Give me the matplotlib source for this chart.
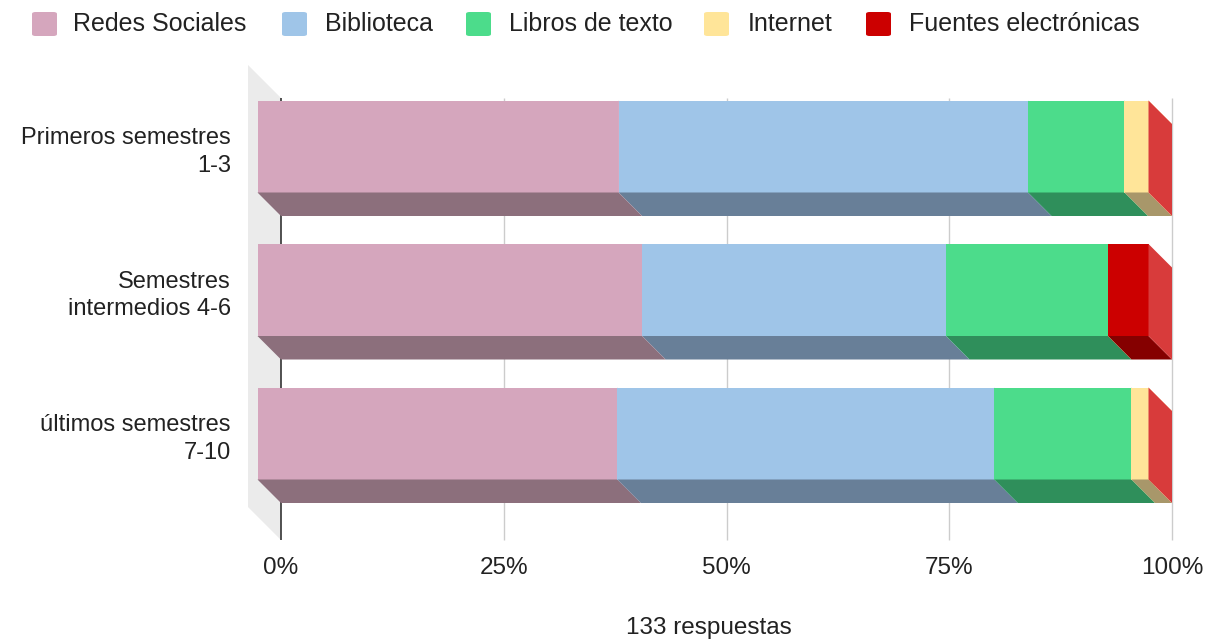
import matplotlib
matplotlib.use("Agg")
import matplotlib.pyplot as plt
from matplotlib.patches import Polygon, FancyBboxPatch
import numpy as np

plt.rcParams['font.family'] = ['Liberation Sans', 'DejaVu Sans']

# Survey counts per group (133 responses in total)
categories = ['Primeros semestres\n1-3', 'Semestres\nintermedios 4-6', 'últimos semestres\n7-10']
series = ['Redes Sociales', 'Biblioteca', 'Libros de texto', 'Internet', 'Fuentes electrónicas']
redes = [15, 19, 21]
biblioteca = [17, 15, 22]
libros = [4, 8, 8]
internet = [1, 0, 1]
fuentes = [0, 2, 0]
x_ticks = [0, 25, 50, 75, 100]
x_labels = ['0%', '25%', '50%', '75%', '100%']
total_label = '133 respuestas'

front_colors = ['#d5a6bd', '#9fc5e8', '#4cdc8b', '#ffe599', '#cc0000']
bottom_colors = ['#8c6f7c', '#687f98', '#2f8f5b', '#a8976a', '#850000']
side_colors = ['#dcb3c6', '#aecfec', '#5ee397', '#ffeaa8', '#d83b3b']

W, H = 1215, 641
fig = plt.figure(figsize=(W / 100, H / 100), dpi=100)

# axes placed so that 0..100% runs over the back plane of the chart
px_x = 8.91     # pixels per percent
px_y = 143.5    # pixels per category
ax_l, ax_r, ax_t, ax_b = 240, 1180, 55, 550
ax = fig.add_axes([ax_l / W, 1 - ax_b / H, (ax_r - ax_l) / W, (ax_b - ax_t) / H])
ax.set_xlim((ax_l - 281) / px_x, (ax_r - 281) / px_x)
ax.set_ylim((ax_b - 170) / px_y, (ax_t - 170) / px_y)
for s in ax.spines.values():
    s.set_visible(False)

# depth offsets (3D look)
dx, dy = 23.5 / px_x, 23.5 / px_y
wdx, wdy = 33 / px_x, 33 / px_y
g_top, g_bot = (98 - 170) / px_y, (540 - 170) / px_y
bar_h = 92 / px_y

# side wall
ax.add_patch(Polygon([(-wdx, g_top - wdy), (0, g_top), (0, g_bot), (-wdx, g_bot - wdy)],
                     closed=True, facecolor='#ebebeb', edgecolor='none', zorder=0))
# gridlines
ax.vlines(x_ticks[1:], g_top, g_bot, color='#cccccc', lw=1, zorder=1)
ax.vlines([0], g_top, g_bot, color='#333333', lw=1.2, zorder=1)

data = np.array([redes, biblioteca, libros, internet, fuentes], dtype=float)
pct = data / data.sum(axis=0) * 100

for c in range(len(categories)):
    top, bot = c - bar_h / 2, c + bar_h / 2
    left = 0.0
    for i in range(len(series)):
        right = left + pct[i, c]
        # front face
        ax.add_patch(Polygon([(left - dx, top - dy), (right - dx, top - dy),
                              (right - dx, bot - dy), (left - dx, bot - dy)],
                             closed=True, facecolor=front_colors[i], edgecolor='none', zorder=3))
        # bottom face
        ax.add_patch(Polygon([(left - dx, bot - dy), (right - dx, bot - dy),
                              (right, bot), (left, bot)],
                             closed=True, facecolor=bottom_colors[i], edgecolor='none', zorder=3))
        # right side face
        ax.add_patch(Polygon([(right - dx, top - dy), (right, top),
                              (right, bot), (right - dx, bot - dy)],
                             closed=True, facecolor=side_colors[i], edgecolor='none', zorder=3))
        left = right

ax.set_xticks(x_ticks)
ax.set_xticklabels(x_labels, fontsize=17.5, color='#222222')
ax.set_yticks(np.arange(len(categories)) - dy)
ax.set_yticklabels(categories, fontsize=17, color='#222222', multialignment='right',
                   linespacing=1.35)
ax.tick_params(axis='x', length=0, pad=5)
ax.tick_params(axis='y', length=0, pad=6.5)

fig.text(709 / W, 1 - 628 / H, total_label, ha='center', va='center', fontsize=17.5, color='#222222')

# legend along the top
leg_x = [32, 282, 466, 704, 866]
leg_tx = [73, 325, 509, 748, 909]
for x0, tx, name, col in zip(leg_x, leg_tx, series, front_colors):
    fig.patches.append(FancyBboxPatch((x0 / W, 1 - 36 / H), 25 / W, 24 / H,
                                      boxstyle='round,pad=0,rounding_size=0.003',
                                      transform=fig.transFigure, facecolor=col, edgecolor='none'))
    fig.text(tx / W, 1 - 24 / H, name, ha='left', va='center', fontsize=18, color='#222222')

fig.savefig('out.png', dpi=100)
